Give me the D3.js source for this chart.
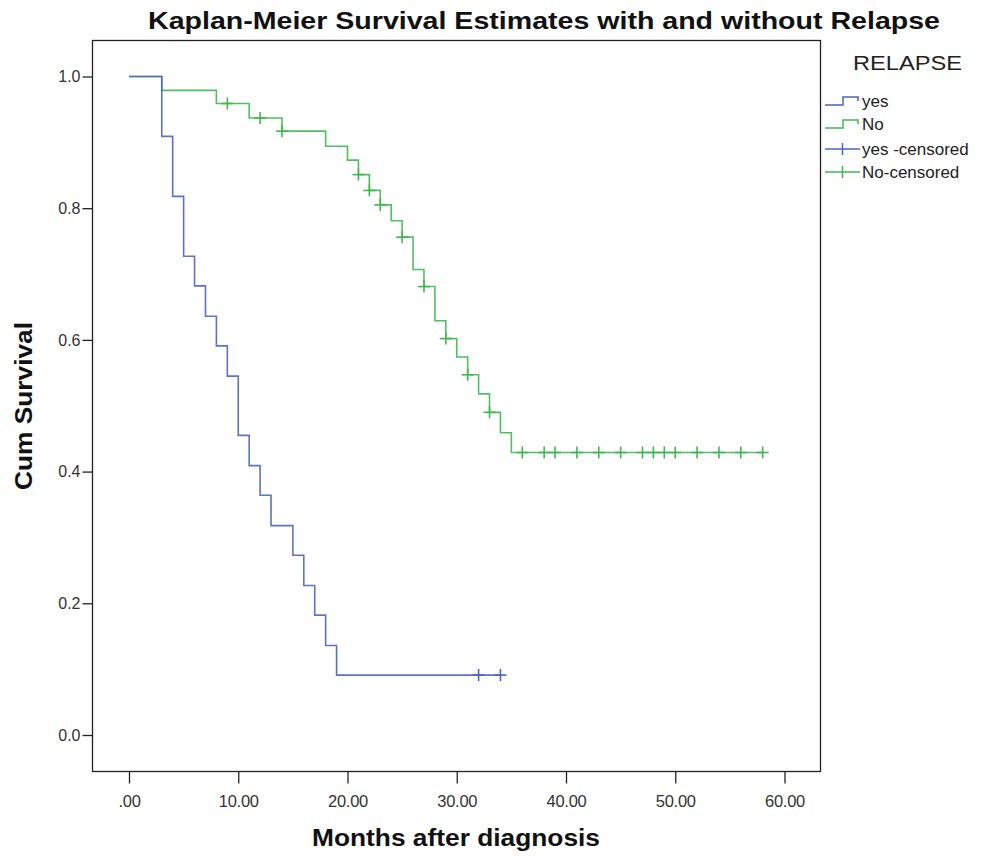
<!DOCTYPE html>
<html>
<head>
<meta charset="utf-8">
<script src="https://cdn.jsdelivr.net/npm/d3@7/dist/d3.min.js"></script>
<style>
  html, body { margin: 0; padding: 0; background: #fff; }
  svg { display: block; font-family: "Liberation Sans", Arial, sans-serif; }
</style>
</head>
<body>
<svg id="chart" width="996" height="857"></svg>
<script>
// ---- data ----
const yesTimes = [0, 3, 4, 5, 6, 7, 8, 9, 10, 11, 12, 13, 15, 16, 17, 18, 19];
const yesSurv  = [1, 0.909, 0.818, 0.727, 0.682, 0.636, 0.591, 0.545, 0.455, 0.409, 0.364, 0.318, 0.273, 0.227, 0.182, 0.136, 0.091];
const yesCensored = [32, 34];

const noTimes = [0, 3, 8, 11, 14, 18, 20, 21, 22, 23, 24, 25, 26, 27, 28, 29, 30, 31, 32, 33, 34, 35];
const noSurv  = [1, 0.979, 0.959, 0.937, 0.917, 0.894, 0.873, 0.851, 0.827, 0.805, 0.781, 0.756, 0.707, 0.681, 0.629, 0.602, 0.574, 0.547, 0.518, 0.490, 0.459, 0.429];
const noCensored = [9, 12, 14, 21, 22, 23, 25, 27, 29, 31, 33, 36, 38, 39, 41, 43, 45, 47, 48, 49, 50, 52, 54, 56, 58];

const xTicks = [0, 10, 20, 30, 40, 50, 60];
const xTickLabels = [".00", "10.00", "20.00", "30.00", "40.00", "50.00", "60.00"];
const yTicks = [0, 0.2, 0.4, 0.6, 0.8, 1.0];
const yTickLabels = ["0.0", "0.2", "0.4", "0.6", "0.8", "1.0"];

const legendLabels = ["yes", "No", "yes -censored", "No-censored"];

// ---- layout ----
const svg = d3.select("#chart");
const frame = { left: 92.5, top: 40.5, right: 820.5, bottom: 771.5 };
const blue = "#4a64c0";
const green = "#3fb84f";

const x = d3.scaleLinear().domain([0, 60]).range([129, 784.5]);
const y = d3.scaleLinear().domain([0, 1]).range([735, 76.5]);

// frame
svg.append("rect")
  .attr("x", frame.left).attr("y", frame.top)
  .attr("width", frame.right - frame.left).attr("height", frame.bottom - frame.top)
  .attr("fill", "none").attr("stroke", "#222").attr("stroke-width", 1.3);

// axes
const xAxis = d3.axisBottom(x).tickValues(xTicks).tickSize(12).tickSizeOuter(0)
  .tickFormat((d, i) => xTickLabels[i]);
const gx = svg.append("g").attr("transform", `translate(0,${frame.bottom})`).call(xAxis);
gx.select(".domain").remove();
gx.selectAll(".tick line").attr("stroke", "#222").attr("stroke-width", 1.3);
gx.selectAll(".tick text").attr("dy", "1.25em").attr("font-size", 16.5).attr("fill", "#333")
  .attr("font-family", "'Liberation Sans', Arial, sans-serif")
  .attr("transform", "scale(0.92,1)")
  .attr("x", 0);
// keep labels centered under ticks after horizontal squeeze
gx.selectAll(".tick").each(function () {
  const t = d3.select(this).select("text");
  t.attr("transform", null).style("letter-spacing", "-0.3px");
});

const yAxis = d3.axisLeft(y).tickValues(yTicks).tickSize(10).tickSizeOuter(0)
  .tickFormat((d, i) => yTickLabels[i]);
const gy = svg.append("g").attr("transform", `translate(${frame.left},0)`).call(yAxis);
gy.select(".domain").remove();
gy.selectAll(".tick line").attr("stroke", "#222").attr("stroke-width", 1.3);
gy.selectAll(".tick text").attr("x", -12).attr("font-size", 16).attr("fill", "#333")
  .attr("font-family", "'Liberation Sans', Arial, sans-serif");

// curves
function buildSeries(times, surv, censored) {
  const pts = times.map((t, i) => ({ t, s: surv[i] }));
  const last = d3.max(censored);
  if (last > times[times.length - 1]) pts.push({ t: last, s: surv[surv.length - 1] });
  const cens = censored.map(t => {
    let idx = 0;
    for (let i = 0; i < times.length; i++) if (times[i] <= t) idx = i;
    return { t, s: surv[idx] };
  });
  return { pts, cens };
}

const line = d3.line().x(d => x(d.t)).y(d => y(d.s)).curve(d3.curveStepAfter);

const series = [
  { ...buildSeries(noTimes, noSurv, noCensored), color: green },
  { ...buildSeries(yesTimes, yesSurv, yesCensored), color: blue }
];

series.forEach(sr => {
  svg.append("path").datum(sr.pts)
    .attr("d", line).attr("fill", "none")
    .attr("stroke", sr.color).attr("stroke-width", 1.6).attr("stroke-opacity", 0.9);
  const g = svg.append("g").attr("stroke", sr.color).attr("stroke-width", 1.6);
  g.selectAll("line.v").data(sr.cens).join("line")
    .attr("x1", d => x(d.t)).attr("x2", d => x(d.t))
    .attr("y1", d => y(d.s) - 6).attr("y2", d => y(d.s) + 6);
  g.selectAll("line.h").data(sr.cens).join("line").attr("class", "h")
    .attr("x1", d => x(d.t) - 6).attr("x2", d => x(d.t) + 6)
    .attr("y1", d => y(d.s)).attr("y2", d => y(d.s));
});

// title
svg.append("text").attr("x", 544).attr("y", 29).attr("text-anchor", "middle")
  .attr("font-size", 24).attr("font-weight", "bold").attr("fill", "#111")
  .attr("textLength", 792).attr("lengthAdjust", "spacingAndGlyphs")
  .text("Kaplan-Meier Survival Estimates with and without Relapse");

// axis titles
svg.append("text").attr("x", 456).attr("y", 846).attr("text-anchor", "middle")
  .attr("font-size", 23).attr("font-weight", "bold").attr("fill", "#111")
  .attr("textLength", 288).attr("lengthAdjust", "spacingAndGlyphs")
  .text("Months after diagnosis");

svg.append("text").attr("transform", "translate(32,406) rotate(-90)").attr("text-anchor", "middle")
  .attr("font-size", 23).attr("font-weight", "bold").attr("fill", "#111")
  .attr("textLength", 168).attr("lengthAdjust", "spacingAndGlyphs")
  .text("Cum Survival");

// legend
svg.append("text").attr("x", 853).attr("y", 70).attr("font-size", 20).attr("fill", "#222")
  .attr("textLength", 109).attr("lengthAdjust", "spacingAndGlyphs")
  .text("RELAPSE");

const legColors = [blue, green, blue, green];
const legY = [101, 124, 149, 172];
legendLabels.forEach((lab, i) => {
  const cy = legY[i];
  const c = legColors[i];
  if (i < 2) {
    svg.append("path")
      .attr("d", `M825,${cy + 4}H843V${cy - 4}H858V${cy}`)
      .attr("fill", "none").attr("stroke", c).attr("stroke-width", 1.5);
  } else {
    svg.append("path")
      .attr("d", `M825,${cy}H860M842.5,${cy - 6}V${cy + 6}`)
      .attr("fill", "none").attr("stroke", c).attr("stroke-width", 1.5);
  }
  svg.append("text").attr("x", 862).attr("y", cy + 6).attr("font-size", 17).attr("fill", "#222")
    .text(lab);
});
</script>
</body>
</html>
